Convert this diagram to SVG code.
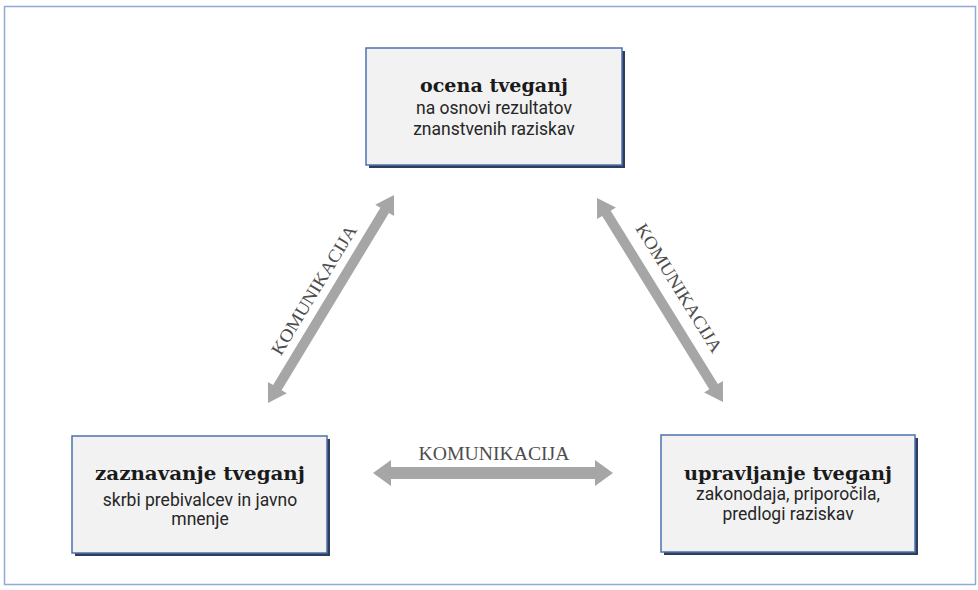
<svg xmlns="http://www.w3.org/2000/svg" width="978" height="590" viewBox="0 0 978 590">
<style>
.frame{fill:#ffffff;stroke:#8faad6;stroke-width:1.5}
.shadow{fill:#2f3d58}
.box{fill:#f2f2f2;stroke:#4c72b0;stroke-width:1.5}
.title{font-family:"DejaVu Serif","Liberation Serif",serif;font-weight:bold;font-size:19px;fill:#1a1a1a;text-anchor:middle}
.sub{font-family:Roboto,"Liberation Sans",sans-serif;font-size:17.5px;fill:#262626;text-anchor:middle}
.arrow{fill:#a6a6a6}
.lbl{font-family:"Liberation Serif","DejaVu Serif",serif;font-size:18px;fill:#4d4d4d;text-anchor:middle}
</style>
<rect class="frame" x="4.5" y="6.5" width="971" height="578"/>
<g id="connectors">
  <g id="c-left">
    <polygon class="arrow" transform="translate(268,403) rotate(-58.8)" points="0,0 18,-11 18,-5 225.2,-5 225.2,-11 243.2,0 225.2,11 225.2,5 18,5 18,11"/>
    <text class="lbl" transform="translate(314,290) rotate(-58.8)" x="0" y="6" textLength="148" lengthAdjust="spacingAndGlyphs">KOMUNIKACIJA</text>
  </g>
  <g id="c-right">
    <polygon class="arrow" transform="translate(597,198) rotate(58.3)" points="0,0 18,-11 18,-5 221.8,-5 221.8,-11 239.8,0 221.8,11 221.8,5 18,5 18,11"/>
    <text class="lbl" transform="translate(679,288) rotate(58.3)" x="0" y="6" textLength="148" lengthAdjust="spacingAndGlyphs">KOMUNIKACIJA</text>
  </g>
  <g id="c-bottom">
    <polygon class="arrow" transform="translate(373,473)" points="0,0 18,-13 18,-6 222,-6 222,-13 240,0 222,13 222,6 18,6 18,13"/>
    <text class="lbl" x="494" y="460" textLength="151" lengthAdjust="spacingAndGlyphs">KOMUNIKACIJA</text>
  </g>
</g>
<g id="node-ocena">
  <rect class="shadow" x="369" y="51" width="256" height="117"/>
  <rect class="box" x="366" y="48" width="256" height="117"/>
  <text class="title" x="494" y="92" textLength="148" lengthAdjust="spacingAndGlyphs">ocena tveganj</text>
  <text class="sub" x="494" y="114">na osnovi rezultatov</text>
  <text class="sub" x="494" y="135">znanstvenih raziskav</text>
</g>
<g id="node-zaznavanje">
  <rect class="shadow" x="75" y="439" width="255" height="117"/>
  <rect class="box" x="72" y="436" width="255" height="117"/>
  <text class="title" x="200" y="480" textLength="210" lengthAdjust="spacingAndGlyphs">zaznavanje tveganj</text>
  <text class="sub" x="200" y="506">skrbi prebivalcev in javno</text>
  <text class="sub" x="200" y="525">mnenje</text>
</g>
<g id="node-upravljanje">
  <rect class="shadow" x="664" y="438" width="254" height="117"/>
  <rect class="box" x="661" y="435" width="254" height="117"/>
  <text class="title" x="788" y="480" textLength="208" lengthAdjust="spacingAndGlyphs">upravljanje tveganj</text>
  <text class="sub" x="788" y="500">zakonodaja, priporočila,</text>
  <text class="sub" x="788" y="520">predlogi raziskav</text>
</g>
</svg>
